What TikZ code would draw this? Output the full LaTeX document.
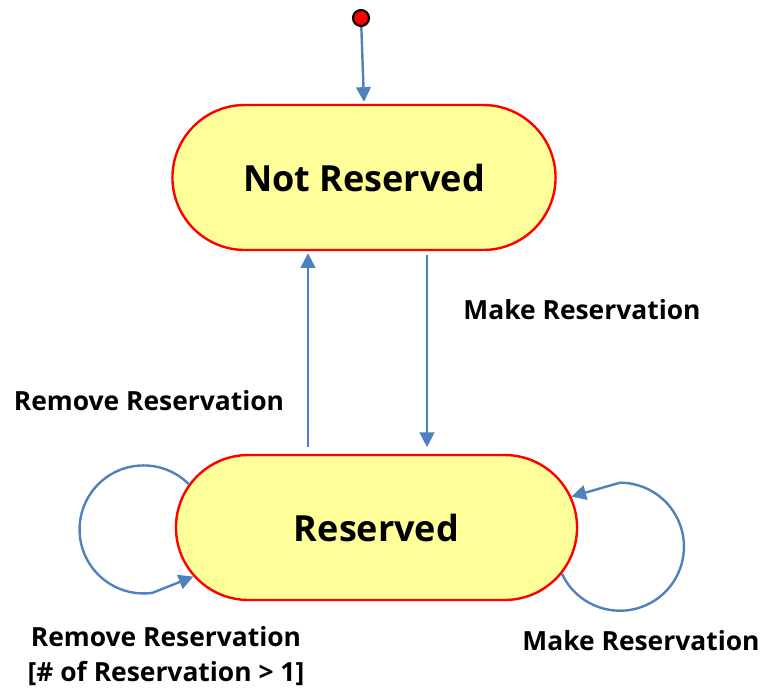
\documentclass[tikz,border=0pt]{standalone}
\usepackage{fontspec}
\setmainfont{Open Sans}
\usetikzlibrary{arrows.meta, shapes.misc, positioning}
\definecolor{etatjaune}{HTML}{FFFF99}
\definecolor{etatrouge}{HTML}{FF0000}
\definecolor{flechebleu}{HTML}{4F81BD}

\tikzset{
  etat/.style={rounded rectangle, draw=etatrouge, line width=1.8pt, fill=etatjaune,
    minimum height=108.75pt, font=\fontsize{27}{32}\selectfont\bfseries},
  fleche/.style={draw=flechebleu, line width=1.8pt},
  etiquette/.style={font=\fontsize{19.8}{24}\selectfont\bfseries, align=center, inner sep=0pt}
}

\begin{document}
\begin{tikzpicture}[x=0.75pt, y=-0.75pt, >={Triangle[length=11pt, width=11pt]}]

  \useasboundingbox (0,0) rectangle (765,690);

  % Etats
  \node[etat, minimum width=294pt] (nonres) at (364,177.5) {Not Reserved};
  \node[etat, minimum width=307.5pt] (res) at (376.5,527.5) {Reserved};

  % Etat initial
  \node[circle, fill=etatrouge, draw=black, line width=1.6pt, minimum size=12pt, inner sep=0pt] (init) at (361,18) {};
  \draw[fleche, ->] (init) -- ([yshift=1.5pt]nonres.north);

  % Transitions verticales
  \coordinate (colmonte) at (308,0);
  \coordinate (coldescend) at (427,0);
  \draw[fleche, ->, shorten <=5pt, shorten >=1.5pt] (res.north -| colmonte) -- (nonres.south -| colmonte);
  \draw[fleche, ->, shorten <=3pt, shorten >=5pt] (nonres.south -| coldescend) -- (res.north -| coldescend);

  \node[etiquette] (lblfaire) at (582,310) {Make Reservation};
  \node[etiquette] (lblretirer) at (149,401) {Remove Reservation};

  % Boucles
  \draw[fleche, ->] (res.167) arc[start angle=-45, end angle=-278, radius=64] -- (res.195);
  \draw[fleche, ->] (res.346) arc[start angle=-205, end angle=-450, radius=64] -- (res.9);

  \node[etiquette] (lblboucleg) at (166,656) {Remove Reservation\\[2pt][\# of Reservation > 1]};
  \node[etiquette] (lbllbouclei) at (641,641) {Make Reservation};

\end{tikzpicture}
\end{document}
